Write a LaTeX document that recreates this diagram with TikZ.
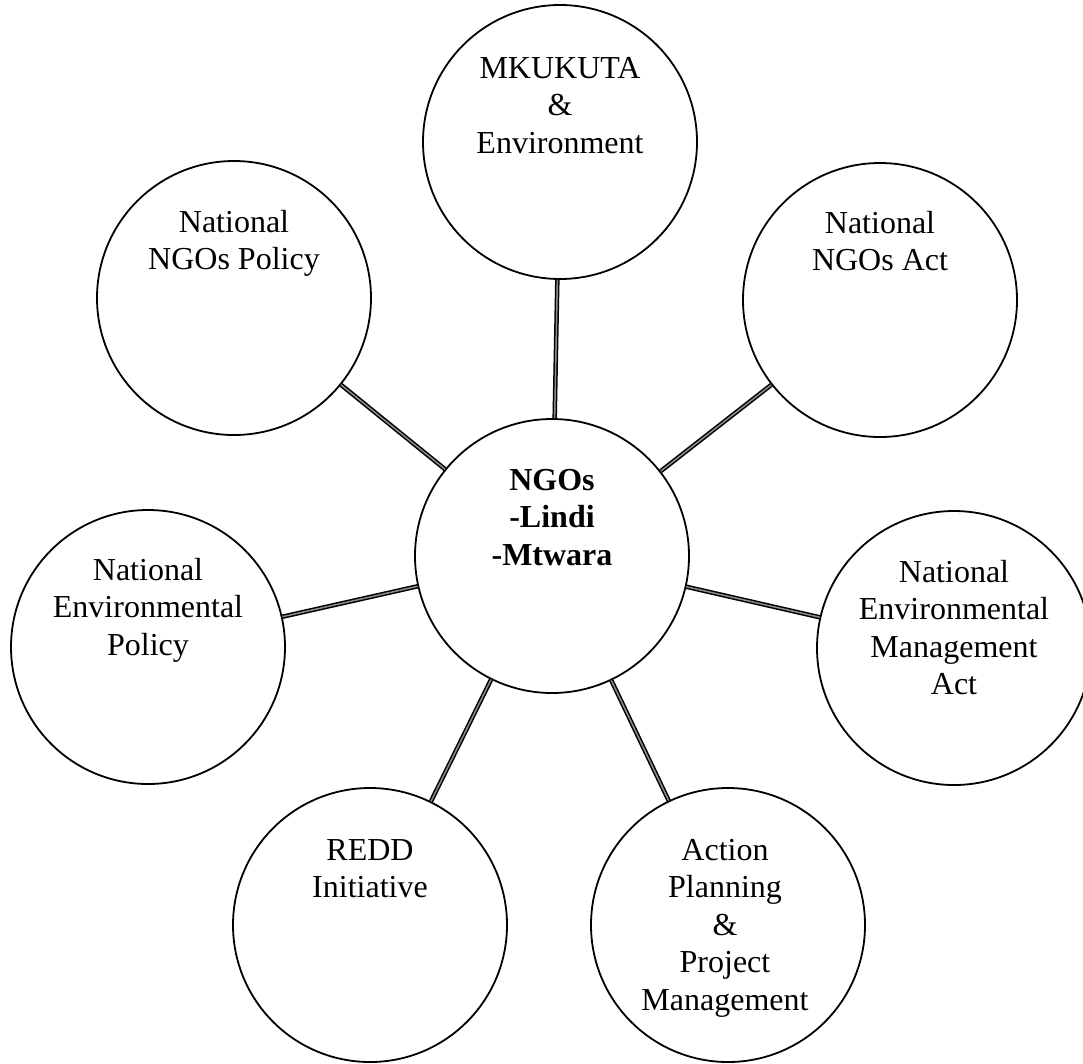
\documentclass[tikz,border=0pt]{standalone}
\usepackage{fontspec}
\setmainfont{Liberation Serif}
\begin{document}
\begin{tikzpicture}[x=1pt,y=-1pt,
  circ/.style={circle, draw=black, line width=1.8pt, fill=white, minimum size=274pt, inner sep=0pt},
  txt/.style={anchor=north, align=center, inner sep=0pt, font=\fontsize{32}{37.5}\selectfont},
  link/.style={draw=black, line width=1.5pt, double=black!45, double distance=1.5pt}]
\clip (0,0) rectangle (1083,1063);
\fill[white] (0,0) rectangle (1083,1063);
% circles
\node[circ] (ctr)  at (552,556) {};
\node[circ] (mk)   at (560,142) {};
\node[circ] (ngp)  at (234,298) {};
\node[circ] (nga)  at (880,300) {};
\node[circ] (nep)  at (148,647) {};
\node[circ] (nema) at (954,648) {};
\node[circ] (redd) at (370,925) {};
\node[circ] (act)  at (728,925) {};
% connectors
\draw[link] (ctr) -- (mk);
\draw[link] (ctr) -- (ngp);
\draw[link] (ctr) -- (nga);
\draw[link] (ctr) -- (nep);
\draw[link] (ctr) -- (nema);
\draw[link] (ctr) -- (redd);
\draw[link] (ctr) -- (act);
% texts
\node[txt, font=\fontsize{32}{37.5}\selectfont\bfseries] (tctr) at (552,464) {\rule{0pt}{26pt}NGOs\\-Lindi\\-Mtwara};
\node[txt] (tmk)   at (560,52)  {\rule{0pt}{26pt}MKUKUTA\\\&\\Environment};
\node[txt] (tngp)  at (234,206) {\rule{0pt}{26pt}National\\NGOs Policy};
\node[txt] (tnga)  at (880,207) {\rule{0pt}{26pt}National\\NGOs Act};
\node[txt] (tnep)  at (148,554) {\rule{0pt}{26pt}National\\Environmental\\Policy};
\node[txt] (tnema) at (954,556) {\rule{0pt}{26pt}National\\Environmental\\Management\\Act};
\node[txt] (tredd) at (370,834) {\rule{0pt}{26pt}REDD\\Initiative};
\node[txt] (tact)  at (725,834) {\rule{0pt}{26pt}Action\\Planning\\\&\\Project\\Management};
\end{tikzpicture}
\end{document}
